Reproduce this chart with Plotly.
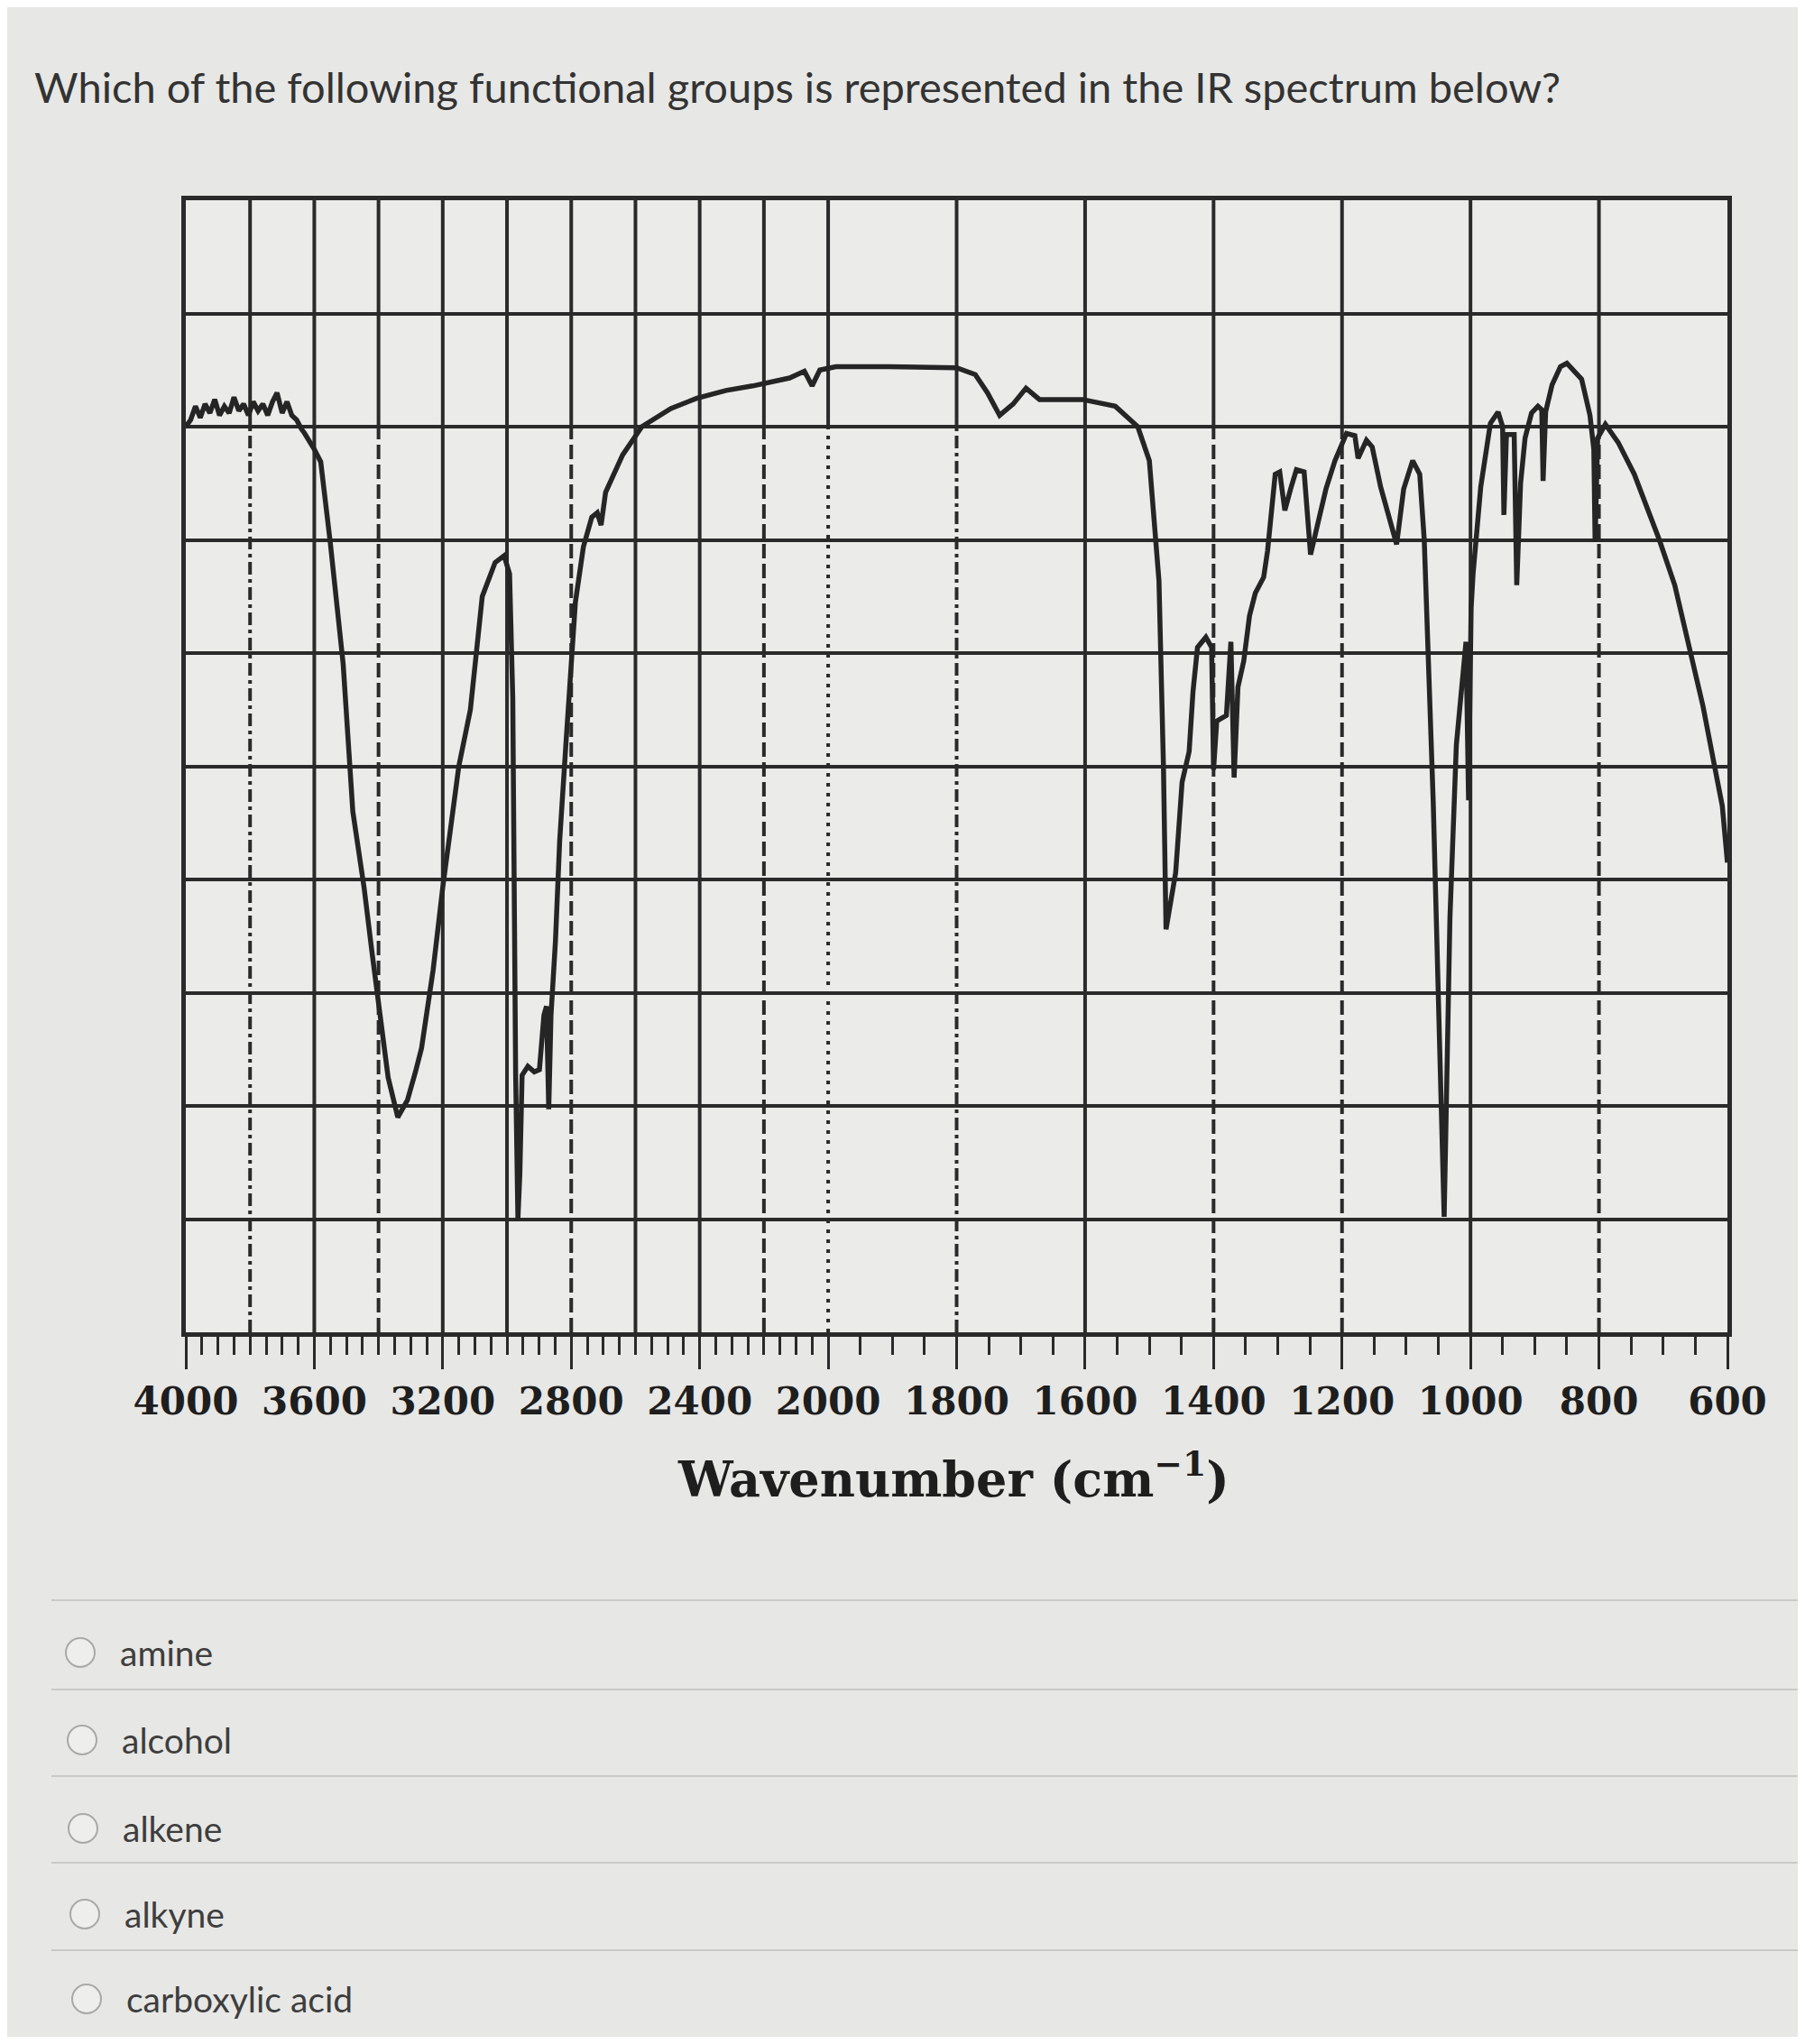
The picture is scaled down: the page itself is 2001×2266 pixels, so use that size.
import numpy as np
import plotly.graph_objects as go

# ---------------- data ----------------
question = "Which of the following functional groups is represented in the IR spectrum below?"
options = ["amine", "alcohol", "alkene", "alkyne", "carboxylic acid"]

tick_wavenumbers = [4000, 3600, 3200, 2800, 2400, 2000, 1800, 1600, 1400, 1200, 1000, 800, 600]
tick_labels = ["4000", "3600", "3200", "2800", "2400", "2000", "1800", "1600", "1400",
               "1200", "1000", "800", "600"]

grid_wavenumbers = [3800, 3600, 3400, 3200, 3000, 2800, 2600, 2400, 2200, 2000,
                    1800, 1600, 1400, 1200, 1000, 800]
grid_lower_style = ["dashdot", "solid", "dash", "solid", "solid", "dash", "solid", "solid",
                    "dash", "dot", "dashdot", "solid", "dash", "dash", "solid", "dash"]

wavenumber = [
    4000, 3985, 3970, 3955, 3940, 3925, 3910, 3895, 3880, 3865, 3850, 3835, 3820, 3805,
    3790, 3775, 3760, 3745, 3730, 3716, 3700, 3685, 3670, 3655, 3640, 3630, 3600, 3580,
    3550, 3510, 3480, 3445, 3420, 3397, 3370, 3340, 3310, 3285, 3266, 3230, 3200, 3150,
    3114, 3077, 3037, 3009, 2992, 2982, 2978, 2973, 2966, 2960, 2953, 2935, 2915, 2899,
    2885, 2877, 2870, 2863, 2849, 2836, 2816, 2800, 2787, 2762, 2736, 2719, 2707, 2693,
    2640, 2580, 2490, 2410, 2318, 2235, 2120, 2074, 2050, 2026, 1988, 1906, 1800, 1771,
    1752, 1733, 1712, 1692, 1671, 1604, 1553, 1518, 1500, 1485, 1478, 1474, 1466, 1459,
    1449, 1438, 1432, 1425, 1412, 1403, 1400, 1395, 1380, 1373, 1368, 1362, 1353, 1344,
    1335, 1322, 1316, 1304, 1297, 1289, 1280, 1271, 1259, 1249, 1237, 1225, 1211, 1193,
    1180, 1175, 1162, 1153, 1140, 1127, 1115, 1104, 1090, 1079, 1072, 1058, 1046, 1041,
    1039, 1032, 1022, 1007, 1003, 999, 996, 984, 969, 957, 950, 948, 944, 932,
    928, 922, 915, 905, 895, 889, 887, 883, 873, 860, 850, 827, 814, 808,
    806, 802, 790, 770, 745, 706, 682, 660, 638, 620, 608, 600,
]
transmittance = [
    80.0, 80.6, 81.8, 80.8, 82.0, 81.2, 82.4, 81.0, 81.8, 81.2, 82.6, 81.4, 82.0, 81.0,
    82.2, 81.4, 82.0, 81.0, 82.2, 83.0, 81.2, 82.2, 81.0, 80.6, 79.8, 79.4, 78.0, 76.9,
    69.7, 59.0, 46.0, 39.3, 33.5, 28.6, 22.5, 19.0, 20.5, 23.0, 25.1, 32.0, 39.3, 50.0,
    55.0, 65.0, 68.0, 68.6, 67.0, 56.0, 39.0, 22.7, 10.0, 14.0, 22.7, 23.5, 23.0, 23.2,
    28.0, 28.8, 19.7, 28.0, 34.6, 43.4, 52.2, 59.3, 64.5, 69.4, 72.0, 72.4, 71.3, 74.2,
    77.5, 80.0, 81.6, 82.5, 83.2, 83.6, 84.3, 84.9, 83.6, 85.0, 85.3, 85.3, 85.2, 84.6,
    83.0, 81.0, 82.0, 83.4, 82.4, 82.4, 81.8, 80.0, 77.0, 66.4, 50.0, 35.6, 38.0, 40.6,
    48.6, 51.3, 56.6, 60.5, 61.4, 60.5, 49.7, 54.0, 54.5, 61.0, 49.0, 57.0, 59.3, 63.3,
    65.3, 66.7, 69.0, 75.8, 76.0, 72.6, 74.5, 76.2, 76.0, 68.7, 71.6, 74.5, 77.0, 79.4,
    79.2, 77.2, 78.8, 78.2, 74.7, 72.0, 69.6, 74.5, 77.0, 75.8, 70.0, 46.8, 21.4, 10.2,
    16.0, 36.6, 51.9, 61.0, 47.0, 64.0, 67.0, 74.7, 80.3, 81.3, 80.0, 72.2, 79.3, 79.3,
    66.0, 75.0, 79.0, 81.2, 81.8, 81.5, 75.2, 81.3, 83.7, 85.3, 85.6, 84.2, 81.0, 78.0,
    69.8, 79.0, 80.2, 78.6, 75.8, 70.0, 66.0, 60.6, 55.3, 50.0, 46.5, 41.5,
]


# chart x axis: 4000-2000 at 400 cm-1 per unit, 2000-600 at 200 cm-1 per unit
def wn_to_pos(w):
    w = np.asarray(w, dtype=float)
    return np.where(w >= 2000, (4000.0 - w) / 400.0, 5.0 + (2000.0 - w) / 200.0)


# ---------------- page geometry ----------------
W, H = 1985, 2250
OFF = 8  # body margin of the html page
PL, PR, PT, PB = 206, 1915, 222, 1477  # plot area in page pixels
plot_w, plot_h = PR - PL, PB - PT


def px(xp):
    return (xp - PL) / plot_w


def py(yp):
    return (PB - yp) / plot_h


INK = "#2a2a2a"
BG = "#e7e7e5"

fig = go.Figure()
fig.add_trace(go.Scatter(
    x=wn_to_pos(wavenumber), y=transmittance, mode="lines",
    line=dict(color="#252525", width=5.5), hoverinfo="skip", showlegend=False,
))

shapes = []
dash_map = {"solid": "solid", "dash": "16px,6px", "dot": "4px,7px",
            "dashdot": "14px,5px,4px,5px"}
for w, st in zip(grid_wavenumbers, grid_lower_style):
    p = float(wn_to_pos(w))
    shapes.append(dict(type="line", xref="x", yref="y", x0=p, x1=p, y0=80, y1=100,
                       line=dict(color=INK, width=4), layer="below"))
    shapes.append(dict(type="line", xref="x", yref="y", x0=p, x1=p, y0=0, y1=80,
                       line=dict(color=INK, width=4, dash=dash_map[st]), layer="below"))

annotations = [dict(
    text=question, xref="paper", yref="paper", x=px(36), y=py(96),
    xanchor="left", yanchor="middle", showarrow=False,
    font=dict(family="Lato", size=47, color="#333333"),
)]
annotations.append(dict(
    text="Wavenumber (cm<sup>\u22121</sup>)", xref="paper", yref="paper",
    x=px(1057), y=py(1637), xanchor="center", yanchor="middle", showarrow=False,
    font=dict(family="DejaVu Serif", size=54, color="#1e1e1e", weight="bold"),
))

opt_y = [1832, 1929, 2027, 2122, 2216]
opt_circle_x = [89, 91, 92, 94, 96]
sep_y = [1774, 1873, 1969, 2065, 2162]
for sy in sep_y:
    shapes.append(dict(type="line", xref="paper", yref="paper", x0=px(57), x1=px(2001),
                       y0=py(sy), y1=py(sy), line=dict(color="#c9c9c7", width=2)))
for label, yc, cx in zip(options, opt_y, opt_circle_x):
    shapes.append(dict(type="circle", xref="paper", yref="paper",
                       xsizemode="pixel", ysizemode="pixel",
                       xanchor=px(cx), yanchor=py(yc), x0=-16, x1=16, y0=-16, y1=16,
                       line=dict(color="#a9a9a7", width=2), fillcolor="#eeeeec"))
    annotations.append(dict(
        text=label, xref="paper", yref="paper", x=px(cx + 42), y=py(yc),
        xanchor="left", yanchor="middle", showarrow=False,
        font=dict(family="Lato", size=39, color="#3e3e3e"),
    ))

# minor tick positions every 50 cm-1
minor_w = [w for w in range(3950, 2000, -50) if w % 400 != 0] + \
          [w for w in range(1950, 600, -50) if w % 200 != 0]

fig.update_layout(
    width=W, height=H,
    margin=dict(l=PL - OFF, r=W - (PR - OFF), t=PT - OFF, b=H - (PB - OFF), pad=0),
    paper_bgcolor=BG, plot_bgcolor="#ebebe9",
    shapes=shapes, annotations=annotations, showlegend=False,
    xaxis=dict(
        range=[0, 12], tickmode="array",
        tickvals=wn_to_pos(tick_wavenumbers).tolist(), ticktext=tick_labels,
        ticks="outside", ticklen=36, tickwidth=3, tickcolor=INK,
        showline=True, linewidth=5, linecolor=INK, mirror=True,
        showgrid=False, zeroline=False,
        tickfont=dict(family="DejaVu Serif", size=42, color="#1e1e1e", weight="bold"),
        minor=dict(tickmode="array", tickvals=wn_to_pos(minor_w).tolist(),
                   ticks="outside", ticklen=20, tickwidth=2.5, tickcolor=INK,
                   showgrid=False),
    ),
    yaxis=dict(
        range=[0, 100], tickmode="linear", tick0=0, dtick=10,
        showgrid=True, gridcolor=INK, gridwidth=4,
        showticklabels=False, ticks="",
        showline=True, linewidth=5, linecolor=INK, mirror=True, zeroline=False,
    ),
)

fig.write_html("out.html")
